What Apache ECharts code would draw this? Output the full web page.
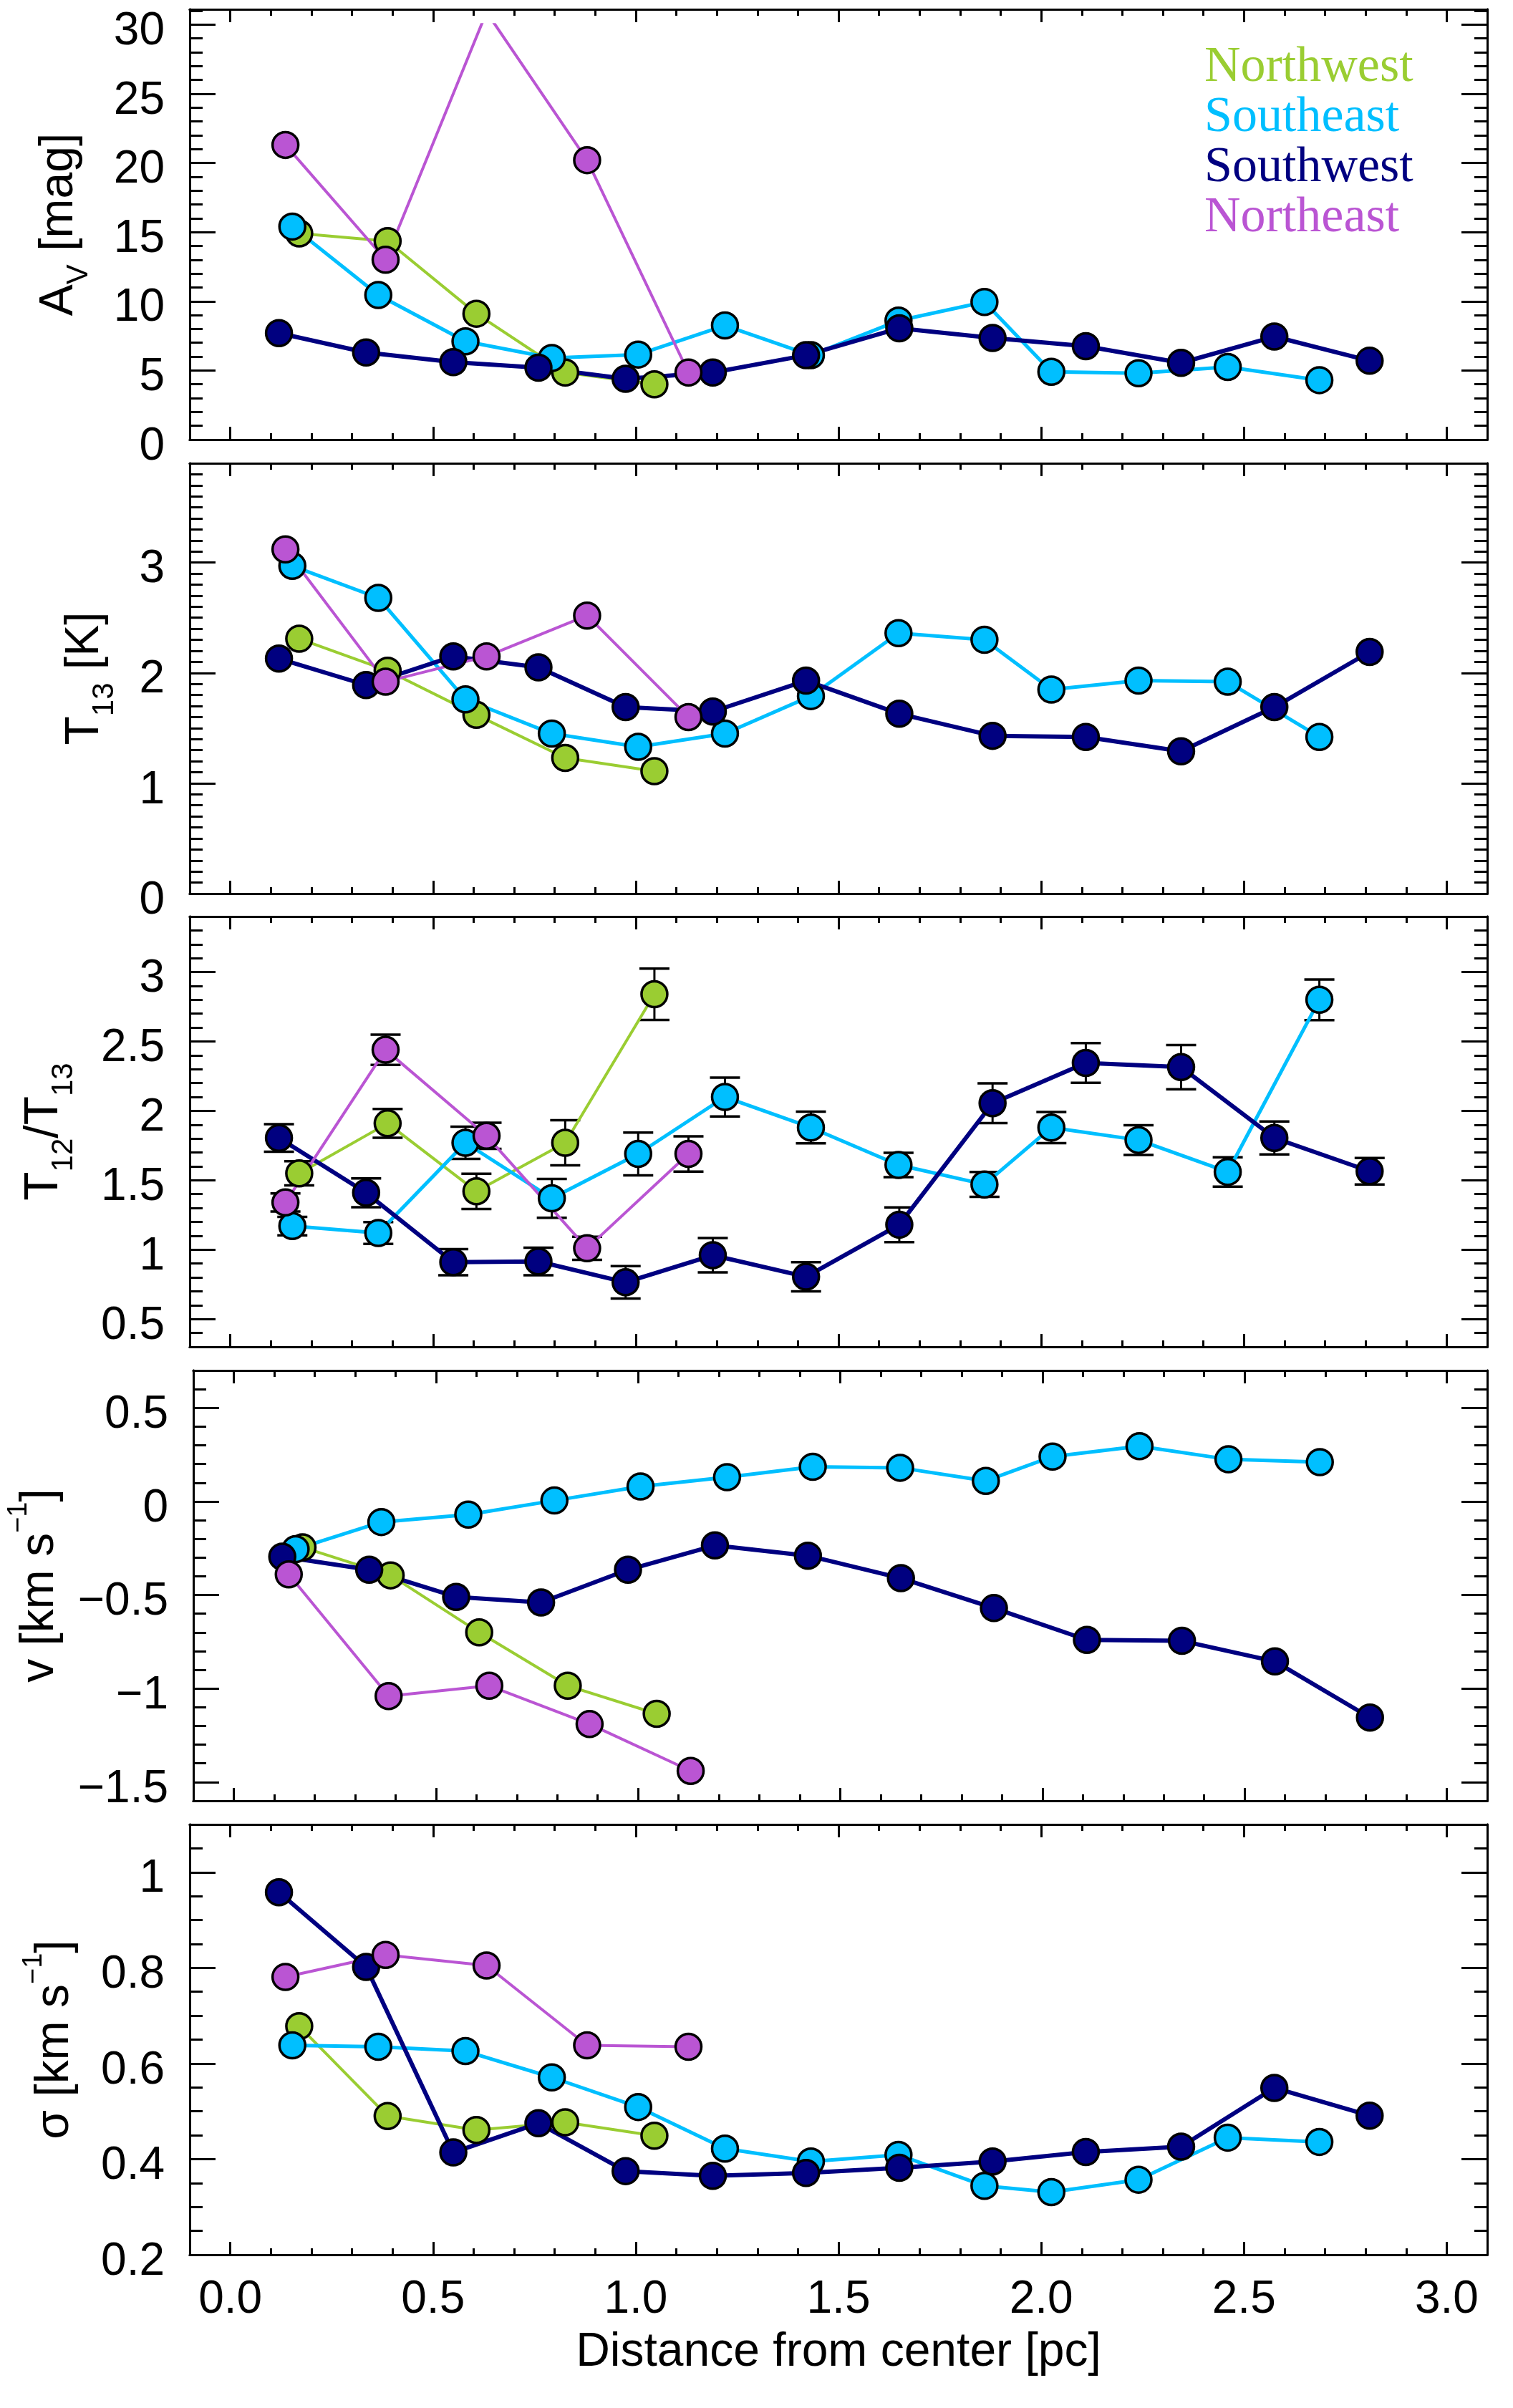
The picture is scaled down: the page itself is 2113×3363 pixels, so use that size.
<!DOCTYPE html>
<html><head><meta charset="utf-8">
<script src="https://cdn.jsdelivr.net/npm/echarts@6/dist/echarts.min.js"></script>
<style>html,body{margin:0;padding:0;background:#fff;}#chart{width:2113px;height:3363px;}</style>
</head><body><div id="chart"></div>
<script>
// ---------------- DATA ----------------
const regionNames = ['Northwest', 'Southeast', 'Southwest', 'Northeast'];

// distance from center [pc] per region
const x_NW = [0.17, 0.388, 0.607, 0.826, 1.046];
const x_SE = [0.153, 0.365, 0.58, 0.793, 1.006, 1.22, 1.432, 1.648, 1.86, 2.025, 2.24, 2.46, 2.686];
const x_SW = [0.12, 0.335, 0.55, 0.76, 0.975, 1.19, 1.42, 1.65, 1.88, 2.11, 2.345, 2.575, 2.81];
const x_NE = [0.136, 0.383, 0.632, 0.88, 1.13];

// A_V [mag]
const av_NW = [14.9, 14.35, 9.1, 4.85, 4.0];
const av_SE = [15.4, 10.45, 7.1, 5.9, 6.15, 8.25, 6.1, 8.6, 9.95, 4.9, 4.8, 5.25, 4.3];
const av_SW = [7.7, 6.3, 5.6, 5.2, 4.4, 4.85, 6.1, 8.05, 7.35, 6.75, 5.55, 7.45, 5.7];
const av_NE = [21.3, 13.0, 30.9, 20.2, 4.85];

// T13 [K]
const t13_NW = [2.31, 2.02, 1.62, 1.23, 1.11];
const t13_SE = [2.97, 2.68, 1.76, 1.45, 1.33, 1.45, 1.79, 2.36, 2.30, 1.85, 1.93, 1.92, 1.42];
const t13_SW = [2.13, 1.89, 2.15, 2.05, 1.69, 1.65, 1.93, 1.63, 1.43, 1.42, 1.29, 1.69, 2.19];
const t13_NE = [3.12, 1.92, 2.15, 2.52, 1.60];

// T12/T13 and its uncertainty
const ratio_NW = [1.55, 1.91, 1.42, 1.77, 2.84];
const ratioErr_NW = [0.087, 0.104, 0.127, 0.163, 0.185];
const ratio_SE = [1.17, 1.12, 1.77, 1.37, 1.69, 2.10, 1.88, 1.61, 1.47, 1.88, 1.79, 1.56, 2.80];
const ratioErr_SE = [0.066, 0.079, 0.116, 0.14, 0.154, 0.14, 0.114, 0.088, 0.09, 0.112, 0.107, 0.106, 0.146];
const ratio_SW = [1.805, 1.41, 0.91, 0.915, 0.765, 0.96, 0.805, 1.18, 2.055, 2.345, 2.315, 1.805, 1.565];
const ratioErr_SW = [0.099, 0.104, 0.094, 0.099, 0.117, 0.124, 0.105, 0.125, 0.143, 0.143, 0.159, 0.119, 0.096];
const ratio_NE = [1.34, 2.44, 1.82, 1.01, 1.69];
const ratioErr_NE = [0.065, 0.109, 0.094, 0.083, 0.127];

// v [km/s]
const v_NW = [-0.245, -0.395, -0.70, -0.985, -1.135];
const v_SE = [-0.255, -0.11, -0.07, 0.005, 0.08, 0.13, 0.185, 0.18, 0.11, 0.24, 0.295, 0.225, 0.21];
const v_SW = [-0.295, -0.365, -0.51, -0.54, -0.365, -0.235, -0.29, -0.41, -0.57, -0.74, -0.745, -0.855, -1.155];
const v_NE = [-0.39, -1.04, -0.985, -1.19, -1.44];

// sigma [km/s]
const sig_NW = [0.678, 0.49, 0.461, 0.477, 0.449];
const sig_SE = [0.638, 0.635, 0.626, 0.571, 0.509, 0.422, 0.395, 0.409, 0.344, 0.331, 0.357, 0.445, 0.436];
const sig_SW = [0.958, 0.802, 0.414, 0.475, 0.375, 0.365, 0.371, 0.382, 0.395, 0.415, 0.426, 0.549, 0.491];
const sig_NE = [0.781, 0.827, 0.805, 0.638, 0.635];

// axes
const xRange = [-0.1, 3.1];
const xTickLabels = [0, 0.5, 1.0, 1.5, 2.0, 2.5, 3.0];
const xMinorStep = 0.1;
const yRanges = [[0, 31.1], [0, 3.9], [0.3, 3.4], [-1.6, 0.7], [0.2, 1.1]];
const yTickLabels = [
  [0, 5, 10, 15, 20, 25, 30],
  [0, 1, 2, 3],
  [0.5, 1, 1.5, 2, 2.5, 3],
  [-1.5, -1, -0.5, 0, 0.5],
  [0.2, 0.4, 0.6, 0.8, 1]
];
const yMinorSteps = [1, 0.1, 0.1, 0.1, 0.05];
const yTitles = [
  '{m|A}{s|V}{m| [mag]}',
  '{m|T}{s|13}{m| [K]}',
  '{m|T}{s|12}{m|/T}{s|13}',
  '{m|v [km s}{p|\u22121}{m|]}',
  '{m|\u03c3 [km s}{p|\u22121}{m|]}'
];
const xTitle = 'Distance from center [pc]';
const av_clipMax = 30;

// ---------------- STYLE / LAYOUT ----------------
const colors = ['#9ACD32', '#00BFFF', '#000080', '#BA55D3'];
const lineWidths = [4, 5, 6, 4];
const panelTops = [13, 647, 1280, 1914, 2548];
const panelH = 601;
const gLeft = 265, gRight = 36;
const yNameGaps = [134, 98, 155, 166, 140];
const FONT = 'Liberation Sans';

const panels = [
  { xs: [x_NW, x_SE, x_SW, x_NE], ys: [av_NW, av_SE, av_SW, av_NE] },
  { xs: [x_NW, x_SE, x_SW, x_NE], ys: [t13_NW, t13_SE, t13_SW, t13_NE] },
  { xs: [x_NW, x_SE, x_SW, x_NE], ys: [ratio_NW, ratio_SE, ratio_SW, ratio_NE],
    errs: [ratioErr_NW, ratioErr_SE, ratioErr_SW, ratioErr_NE] },
  { xs: [x_NW, x_SE, x_SW, x_NE], ys: [v_NW, v_SE, v_SW, v_NE] },
  { xs: [x_NW, x_SE, x_SW, x_NE], ys: [sig_NW, sig_SE, sig_SW, sig_NE] }
];

function stepTicks(min, max, step) {
  const out = [];
  for (let k = Math.ceil(min / step - 1e-9); k * step <= max + 1e-9; k++) out.push(+(k * step).toFixed(4));
  return out;
}
const fmtNum = v => String(v).replace('-', '\u2212');

const grids = [], xAxes = [], yAxes = [], series = [];
const axLine = { show: true, onZero: false, lineStyle: { color: '#000', width: 3 } };
const tickStyle = { color: '#000', width: 3 };

function xAx(gi, pos, len, ticks, labels, name) {
  const a = {
    type: 'value', gridIndex: gi, min: xRange[0], max: xRange[1], position: pos,
    axisLine: axLine, splitLine: { show: false },
    axisTick: { show: true, inside: true, length: len, customValues: ticks, lineStyle: tickStyle },
    axisLabel: { show: false }
  };
  if (labels) {
    a.axisLabel = { show: true, customValues: xTickLabels, formatter: v => v.toFixed(1),
      fontSize: 64, fontFamily: FONT, color: '#000', margin: 31 };
    a.name = name; a.nameLocation = 'middle'; a.nameGap = 104;
    a.nameTextStyle = { fontSize: 66, fontFamily: FONT, color: '#000' };
  }
  xAxes.push(a); return xAxes.length - 1;
}
function yAx(gi, pos, len, ticks, range, labels, pi) {
  const a = {
    type: 'value', gridIndex: gi, min: range[0], max: range[1], position: pos,
    axisLine: axLine, splitLine: { show: false },
    axisTick: { show: true, inside: true, length: len, customValues: ticks, lineStyle: tickStyle },
    axisLabel: { show: false }
  };
  if (labels) {
    a.axisLabel = { show: true, customValues: yTickLabels[pi], formatter: fmtNum,
      fontSize: 64, fontFamily: FONT, color: '#000', margin: 35,
      verticalAlign: 'top', lineHeight: 20 };
    a.name = yTitles[pi]; a.nameLocation = 'middle'; a.nameRotate = 90; a.nameGap = yNameGaps[pi];
    a.nameTextStyle = { fontFamily: FONT, color: '#000', rich: {
      m: { fontSize: 66, lineHeight: 96, fontFamily: FONT, color: '#000', verticalAlign: 'middle' },
      s: { fontSize: 42, lineHeight: 42, fontFamily: FONT, color: '#000', verticalAlign: 'bottom' },
      p: { fontSize: 38, lineHeight: 38, fontFamily: FONT, color: '#000', verticalAlign: 'top' }
    } };
  }
  yAxes.push(a); return yAxes.length - 1;
}

function errRender(params, api) {
  const x = api.value(0), y = api.value(1), e = api.value(2);
  const lo = api.coord([x, y - e]), hi = api.coord([x, y + e]);
  const hw = 21;
  const st = { stroke: '#000', lineWidth: 3.5 };
  return { type: 'group', children: [
    { type: 'line', shape: { x1: lo[0], y1: lo[1], x2: hi[0], y2: hi[1] }, style: { stroke: '#000', lineWidth: 3 } },
    { type: 'line', shape: { x1: lo[0] - hw, y1: lo[1], x2: lo[0] + hw, y2: lo[1] }, style: st },
    { type: 'line', shape: { x1: hi[0] - hw, y1: hi[1], x2: hi[0] + hw, y2: hi[1] }, style: st }
  ] };
}

const xMinor = stepTicks(xRange[0], xRange[1], xMinorStep);

panels.forEach((p, i) => {
  grids.push({ left: gLeft, right: gRight, top: panelTops[i], height: panelH });
  const last = i === panels.length - 1;
  const xb = xAx(i, 'bottom', 18, xTickLabels, last, xTitle);
  xAx(i, 'bottom', 9, xMinor, false);
  xAx(i, 'top', 18, xTickLabels, false);
  xAx(i, 'top', 9, xMinor, false);
  const yMinor = stepTicks(yRanges[i][0], yRanges[i][1], yMinorSteps[i]);
  const yl = yAx(i, 'left', 36, yTickLabels[i], yRanges[i], true, i);
  yAx(i, 'left', 18, yMinor, yRanges[i], false, i);
  yAx(i, 'right', 36, yTickLabels[i], yRanges[i], false, i);
  yAx(i, 'right', 18, yMinor, yRanges[i], false, i);
  p.xi = xb; p.yi = yl;
});

// Panel 1 data are clipped at A_V = 30 (inner plotting window)
{
  const gi = grids.length;
  const off = panelH * (yRanges[0][1] - av_clipMax) / (yRanges[0][1] - yRanges[0][0]);
  grids.push({ left: gLeft, right: gRight, top: panelTops[0] + off, height: panelH - off });
  xAxes.push({ type: 'value', gridIndex: gi, min: xRange[0], max: xRange[1], show: false });
  yAxes.push({ type: 'value', gridIndex: gi, min: yRanges[0][0], max: av_clipMax, show: false });
  panels[0].xi = xAxes.length - 1; panels[0].yi = yAxes.length - 1;
}

panels.forEach((p, i) => {
  for (let k = 0; k < 4; k++) {
    series.push({
      type: 'line', name: regionNames[k], xAxisIndex: p.xi, yAxisIndex: p.yi,
      data: p.xs[k].map((x, j) => [x, p.ys[k][j]]),
      symbol: 'circle', symbolSize: 36, showSymbol: true, clip: true,
      itemStyle: { color: colors[k], borderColor: '#000', borderWidth: 3.5 },
      lineStyle: { color: colors[k], width: lineWidths[k] },
      emphasis: { disabled: true }, silent: true
    });
    if (p.errs) {
      series.push({
        type: 'custom', name: regionNames[k], xAxisIndex: p.xi, yAxisIndex: p.yi,
        data: p.xs[k].map((x, j) => [x, p.ys[k][j], p.errs[k][j]]),
        encode: { x: 0, y: 1 }, renderItem: errRender, silent: true, clip: false
      });
    }
  }
});

const chart = echarts.init(document.getElementById('chart'), null, { renderer: 'canvas' });
chart.setOption({
  backgroundColor: '#fff',
  animation: false,
  grid: grids, xAxis: xAxes, yAxis: yAxes, series: series,
  legend: {
    data: regionNames.map((n, k) => ({ name: n, textStyle: { color: colors[k] } })),
    orient: 'vertical', left: 1676, top: 60, icon: 'none', itemWidth: 1, itemHeight: 10,
    itemGap: 0, padding: 0, selectedMode: false,
    textStyle: { fontFamily: 'Liberation Serif', fontSize: 70, lineHeight: 66 }
  }
});
</script></body></html>
